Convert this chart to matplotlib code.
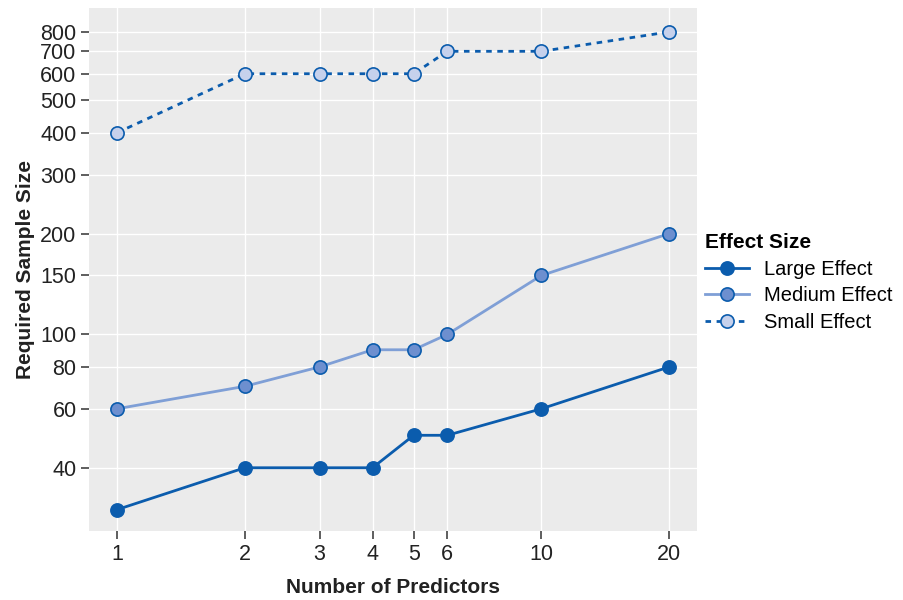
import matplotlib
matplotlib.use("Agg")
import matplotlib.pyplot as plt
from matplotlib.ticker import FixedLocator, NullLocator

plt.rcParams['font.family'] = ['Liberation Sans', 'DejaVu Sans']

predictors = [1, 2, 3, 4, 5, 6, 10, 20]
large = [30, 40, 40, 40, 50, 50, 60, 80]
medium = [60, 70, 80, 90, 90, 100, 150, 200]
small = [400, 600, 600, 600, 600, 700, 700, 800]
yticks = [40, 60, 80, 100, 150, 200, 300, 400, 500, 600, 700, 800]
series_names = ["Large Effect", "Medium Effect", "Small Effect"]

dark = "#0b5cad"
fig = plt.figure(figsize=(9.04, 6.0), dpi=100)
ax = fig.add_axes([0.0985, 0.115, 0.672, 0.872])
ax.set_facecolor("#ebebeb")
for s in ax.spines.values():
    s.set_visible(False)

ax.plot(predictors, large, color=dark, lw=2, marker='o', ms=9.5, mfc=dark, mec=dark, mew=1.2, label=series_names[0], zorder=3)
ax.plot(predictors, medium, color="#7f9fd6", lw=2, marker='o', ms=9.5, mfc="#6d8fcf", mec=dark, mew=1.2, label=series_names[1], zorder=3)
ax.plot(predictors, small, color=dark, lw=2, ls=(0, (2, 2)), marker='o', ms=9.5, mfc="#c6d1ec", mec=dark, mew=1.2, label=series_names[2], zorder=3)

ax.set_xscale('log')
ax.set_yscale('log')
ax.set_xlim(0.859, 23.2)
ax.set_ylim(25.9, 944)
ax.xaxis.set_major_locator(FixedLocator(predictors))
ax.xaxis.set_minor_locator(NullLocator())
ax.set_xticklabels([str(p) for p in predictors])
ax.yaxis.set_major_locator(FixedLocator(yticks))
ax.yaxis.set_minor_locator(NullLocator())
ax.set_yticklabels([str(t) for t in yticks])
ax.grid(True, color="white", lw=1.0)
ax.set_axisbelow(True)
ax.tick_params(axis='both', length=6, width=1.1, color="#333333", labelsize=15.5, labelcolor="#222222", pad=3)

ax.set_xlabel("Number of Predictors", fontsize=15, fontweight='bold', labelpad=10, color="#222222")
ax.set_ylabel("Required Sample Size", fontsize=15, fontweight='bold', labelpad=4, color="#222222")

leg = fig.legend(loc='upper left', bbox_to_anchor=(0.771, 0.625), frameon=False,
                 title="Effect Size", fontsize=14.5, handlelength=2.2, handletextpad=0.75,
                 labelspacing=0.38, borderaxespad=0)
leg.get_title().set_fontweight('bold')
leg.get_title().set_fontsize(15)
leg._legend_box.align = "left"

fig.savefig("out.png", dpi=100)
